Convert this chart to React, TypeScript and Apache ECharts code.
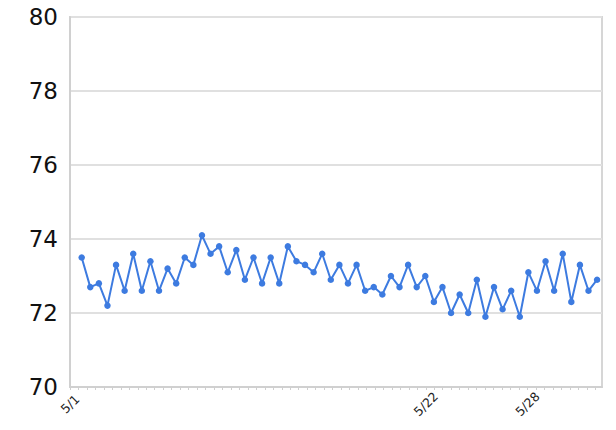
import React, { useEffect, useRef } from "react";
import * as echarts from "echarts";

// readings (twice-daily samples through May)
const values: number[] = [
  73.5, 72.7, 72.8, 72.2, 73.3, 72.6, 73.6, 72.6, 73.4, 72.6,
  73.2, 72.8, 73.5, 73.3, 74.1, 73.6, 73.8, 73.1, 73.7, 72.9,
  73.5, 72.8, 73.5, 72.8, 73.8, 73.4, 73.3, 73.1, 73.6, 72.9,
  73.3, 72.8, 73.3, 72.6, 72.7, 72.5, 73.0, 72.7, 73.3, 72.7,
  73.0, 72.3, 72.7, 72.0, 72.5, 72.0, 72.9, 71.9, 72.7, 72.1,
  72.6, 71.9, 73.1, 72.6, 73.4, 72.6, 73.6, 72.3, 73.3, 72.6,
  72.9,
];
// sample time in days since 5/1 00:00
const firstSampleDay = 0.69;
const sampleStepDay = 0.507;
const xMaxDay = 31.4;

const xTickLabelDays: number[] = [0, 21, 27];
const xTickLabels: string[] = ["5/1", "5/22", "5/28"];

const yMin = 70;
const yMax = 80;
const yStep = 2;

export default function App() {
  const ref = useRef<HTMLDivElement>(null);
  useEffect(() => {
    document.body.style.margin = "0";
    if (!ref.current) return;
    const chart = echarts.init(ref.current, null, { renderer: "svg" });
    const data = values.map((v, i) => [firstSampleDay + sampleStepDay * i, v]);
    chart.setOption({
      animation: false,
      grid: {
        left: 70,
        right: 14,
        top: 17,
        bottom: 43,
        show: true,
        borderColor: "#d6d6d6",
        borderWidth: 2,
      },
      xAxis: {
        type: "value",
        min: 0,
        max: xMaxDay,
        interval: 0.5,
        axisLine: { show: true, lineStyle: { color: "#d0d0d0", width: 2 } },
        axisTick: { show: true, length: 3, lineStyle: { color: "#cfcfcf", width: 1 } },
        splitLine: { show: false },
        axisLabel: {
          rotate: 45,
          align: "center",
          verticalAlign: "middle",
          fontFamily: "DejaVu Sans",
          fontSize: 12.5,
          color: "#222",
          margin: 17,
          showMaxLabel: false,
          formatter: (v: number) => {
            const k = xTickLabelDays.findIndex((d) => Math.abs(d - v) < 1e-6);
            return k >= 0 ? xTickLabels[k] : "";
          },
        },
      },
      yAxis: {
        type: "value",
        min: yMin,
        max: yMax,
        interval: yStep,
        axisLine: { show: true, lineStyle: { color: "#d0d0d0", width: 2 } },
        axisTick: { show: false },
        splitLine: { show: true, lineStyle: { color: "#e0e0e0", width: 2 } },
        axisLabel: {
          fontFamily: "DejaVu Sans",
          fontSize: 23,
          color: "#111",
          margin: 12,
        },
      },
      series: [
        {
          type: "line",
          data,
          symbol: "circle",
          symbolSize: 6.5,
          showSymbol: true,
          lineStyle: { color: "#3d7be0", width: 2 },
          itemStyle: { color: "#3d7be0" },
        },
      ],
    });
    return () => chart.dispose();
  }, []);
  return <div ref={ref} style={{ width: 616, height: 430 }} />;
}
